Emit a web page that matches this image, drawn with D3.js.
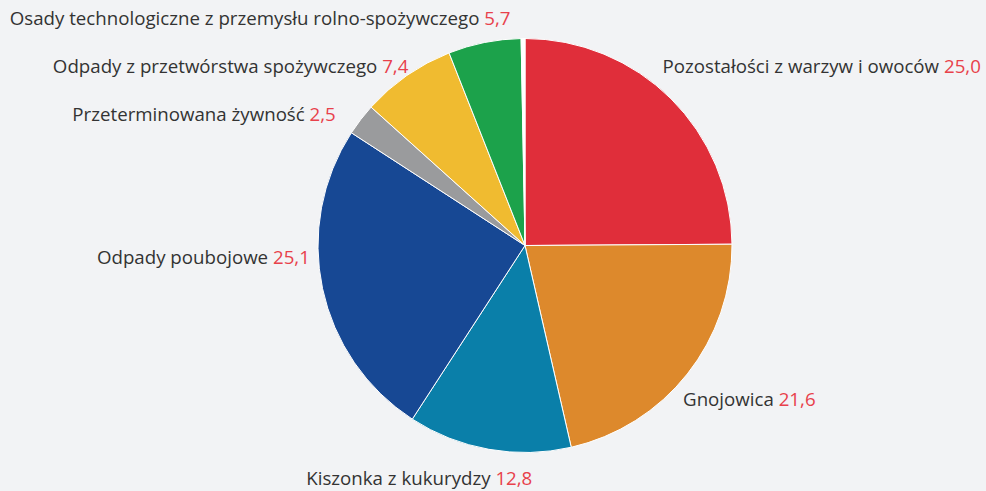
<!DOCTYPE html>
<html>
<head>
<meta charset="utf-8">
<script src="https://cdn.jsdelivr.net/npm/d3@7"></script>
<style>
  html, body { margin: 0; padding: 0; background: #f2f3f5; }
  #chart { width: 986px; height: 491px; }
</style>
</head>
<body>
<div id="chart"></div>
<script>
// Struktura surowców (udział %)
const categories = [
  "Pozostałości z warzyw i owoców",
  "Gnojowica",
  "Kiszonka z kukurydzy",
  "Odpady poubojowe",
  "Przeterminowana żywność",
  "Odpady z przetwórstwa spożywczego",
  "Osady technologiczne z przemysłu rolno-spożywczego",
  ""
];
const values = [25.0, 21.6, 12.8, 25.1, 2.5, 7.4, 5.7, 0.3];
const valueLabels = ["25,0", "21,6", "12,8", "25,1", "2,5", "7,4", "5,7", ""];
const colors = ["#e02e3a", "#dd892c", "#0a7fa9", "#174894", "#9a9b9d", "#f0bb30", "#1ca24b", "#ffffff"];

// label nudges (px) relative to the point on the label ring
const labelNudge = [[-19, -20], [-16, 18], [46, 16], [2, -33], [-13, 6], [10, 5], [29, -8], [0, 0]];

const width = 986, height = 491;
const cx = 525, cy = 245.5, radius = 207, labelRadius = 222;

const svg = d3.select("#chart").append("svg")
  .attr("width", width)
  .attr("height", height)
  .style("font-family", "'Open Sans', sans-serif");

const data = categories.map((c, i) => ({ name: c, value: values[i], label: valueLabels[i], i }));

const pie = d3.pie().sort(null).value(d => d.value);
const arcs = pie(data);

const arc = d3.arc().innerRadius(0).outerRadius(radius);

const g = svg.append("g").attr("transform", `translate(${cx},${cy})`);

g.selectAll("path")
  .data(arcs)
  .enter().append("path")
  .attr("d", arc)
  .attr("fill", d => colors[d.data.i])
  .attr("stroke", "#ffffff")
  .attr("stroke-width", 1);

// Labels
g.selectAll("text")
  .data(arcs.filter(d => d.data.name))
  .enter().append("text")
  .attr("font-size", "18.7px")
  .attr("dominant-baseline", "middle")
  .each(function (d) {
    const mid = (d.startAngle + d.endAngle) / 2;
    const nudge = labelNudge[d.data.i];
    const x = Math.sin(mid) * labelRadius + nudge[0];
    const y = -Math.cos(mid) * labelRadius + nudge[1];
    const t = d3.select(this)
      .attr("x", x)
      .attr("y", y)
      .attr("text-anchor", mid < Math.PI ? "start" : "end");
    t.append("tspan").attr("fill", "#333333").text(d.data.name + " ");
    t.append("tspan").attr("fill", "#e8414b").text(d.data.label);
  });
</script>
</body>
</html>
